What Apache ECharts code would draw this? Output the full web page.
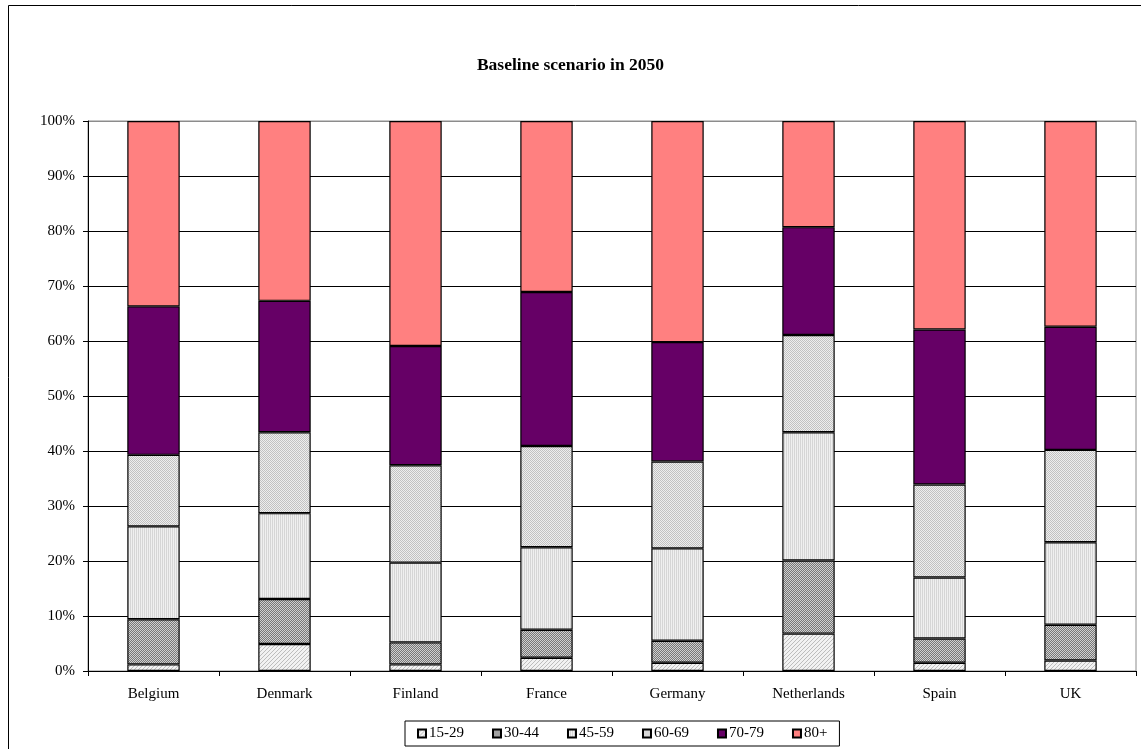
<!DOCTYPE html>
<html>
<head>
<meta charset="utf-8">
<script src="https://cdn.jsdelivr.net/npm/echarts@6/dist/echarts.min.js"></script>
<style>
  html, body { margin: 0; padding: 0; background: #fff; }
  #chart { width: 1141px; height: 749px; }
</style>
</head>
<body>
<div id="chart"></div>
<script>
// Population share by age group, baseline scenario 2050 (percent of total)
const countries = ['Belgium', 'Denmark', 'Finland', 'France', 'Germany', 'Netherlands', 'Spain', 'UK'];
const ageGroups = ['15-29', '30-44', '45-59', '60-69', '70-79', '80+'];

const age15to29 = [1.2, 4.9, 1.2, 2.4, 1.5, 6.8, 1.5, 1.9];
const age30to44 = [8.2, 8.2, 4.0, 5.1, 4.0, 13.3, 4.4, 6.5];
const age45to59 = [16.9, 15.6, 14.5, 15.0, 16.8, 23.3, 11.1, 15.0];
const age60to69 = [13.0, 14.7, 17.7, 18.4, 15.8, 17.7, 16.9, 16.8];
const age70to79 = [27.0, 23.9, 21.7, 28.0, 21.7, 19.6, 28.2, 22.4];
const age80plus = [33.7, 32.7, 40.9, 31.1, 40.2, 19.3, 37.9, 37.4];

const yTicks = [0, 10, 20, 30, 40, 50, 60, 70, 80, 90, 100];

const seriesValues = [age15to29, age30to44, age45to59, age60to69, age70to79, age80plus];

// Small repeating fill patterns for the grey age bands
function makePattern(size, draw) {
  const c = document.createElement('canvas');
  c.width = size; c.height = size;
  const ctx = c.getContext('2d');
  draw(ctx, size);
  return { image: c, repeat: 'repeat' };
}

const diagonalHatch = makePattern(4, (ctx, s) => {
  ctx.fillStyle = '#f2f2f2'; ctx.fillRect(0, 0, s, s);
  ctx.fillStyle = '#bdbdbd';
  for (let i = 0; i < s; i++) ctx.fillRect((s - 1 - i), i, 1, 1);
});
const darkChecker = makePattern(2, (ctx) => {
  ctx.fillStyle = '#777777'; ctx.fillRect(0, 0, 2, 2);
  ctx.fillStyle = '#d0d0d0'; ctx.fillRect(0, 0, 1, 1); ctx.fillRect(1, 1, 1, 1);
});
const verticalLines = makePattern(2, (ctx) => {
  ctx.fillStyle = '#f0f0f0'; ctx.fillRect(0, 0, 2, 2);
  ctx.fillStyle = '#d6d6d6'; ctx.fillRect(0, 0, 1, 2);
});
const lightDots = makePattern(2, (ctx) => {
  ctx.fillStyle = '#eeeeee'; ctx.fillRect(0, 0, 2, 2);
  ctx.fillStyle = '#c2c2c2'; ctx.fillRect(0, 0, 1, 1); ctx.fillRect(1, 1, 1, 1);
});

const fills = [diagonalHatch, darkChecker, verticalLines, lightDots, '#660066', '#ff8080'];

const serif = 'Liberation Serif, Times New Roman, serif';

const chart = echarts.init(document.getElementById('chart'), null, { renderer: 'canvas' });

// Grid lines black, the top one matches the grey plot-area border
const splitColors = yTicks.map((v, i) => (i === yTicks.length - 1 ? '#8c8c8c' : '#000'));

chart.setOption({
  animation: false,
  backgroundColor: '#fff',
  title: {
    text: 'Baseline scenario in 2050',
    left: 'center',
    top: 51,
    textStyle: { fontFamily: serif, fontSize: 17.5, fontWeight: 'bold', color: '#000' }
  },
  graphic: [{
    type: 'rect',
    shape: { x: 8.5, y: 5.5, width: 1145, height: 760 },
    style: { fill: 'none', stroke: '#000', lineWidth: 1 },
    silent: true,
    z: 100
  }],
  grid: {
    left: 88, right: 5, top: 121, bottom: 78,
    show: true, borderColor: '#8c8c8c', borderWidth: 1
  },
  legend: {
    data: ageGroups,
    left: 405,
    top: 721,
    orient: 'horizontal',
    icon: 'rect',
    itemWidth: 8,
    itemHeight: 8,
    itemGap: 28,
    padding: [5, 12],
    borderColor: '#000',
    borderWidth: 1,
    textStyle: { fontFamily: serif, fontSize: 15, color: '#000', padding: [0, 0, 0, -2] }
  },
  xAxis: {
    type: 'category',
    data: countries,
    axisLine: { lineStyle: { color: '#000', width: 1 } },
    axisTick: { show: true, length: 5, lineStyle: { color: '#000' } },
    axisLabel: { fontFamily: serif, fontSize: 15, color: '#000', margin: 16 },
    splitLine: { show: false }
  },
  yAxis: {
    type: 'value',
    min: 0,
    max: 100,
    interval: 10,
    axisLine: { show: true, lineStyle: { color: '#000', width: 1 } },
    axisTick: { show: true, length: 5, lineStyle: { color: '#000' } },
    axisLabel: { fontFamily: serif, fontSize: 15, color: '#000', margin: 13, formatter: v => v + '%' },
    splitLine: { show: true, lineStyle: { color: splitColors, width: 1 } }
  },
  series: ageGroups.map((name, i) => ({
    name,
    type: 'bar',
    stack: 'total',
    barWidth: '40%',
    data: seriesValues[i],
    itemStyle: { color: fills[i], borderColor: '#000', borderWidth: 1.2 },
    emphasis: { disabled: true }
  }))
});
</script>
</body>
</html>
